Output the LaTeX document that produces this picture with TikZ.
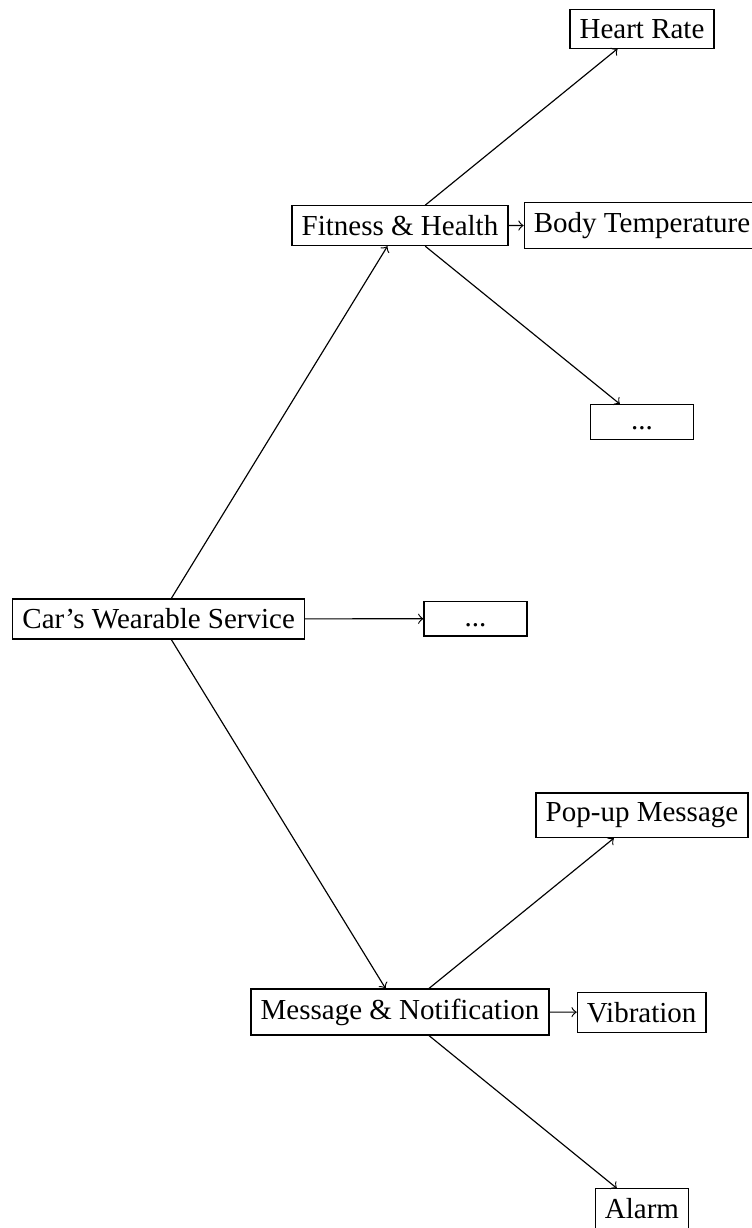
\documentclass[tikz,border=0pt]{standalone}
\usepackage{fontspec}
\setmainfont{Liberation Serif}
\begin{document}
\begin{tikzpicture}[x=0.3448pt,y=-0.3448pt,
  box/.style={draw, font=\fontsize{10}{12}\selectfont},
  dotbox/.style={box, minimum width=35.5pt, text height=5.3pt, text depth=0pt},
  conn/.style={->}]
\useasboundingbox (0,0) rectangle (752,1228);
\node[box] (root) at (158.7,619) {Car’s Wearable Service};
\node[box] (fit) at (400,225.7) {Fitness \& Health};
\node[box] (hr) at (642,28.8) {Heart Rate};
\node[box] (bt) at (642,225.3) {Body Temperature};
\node[dotbox] (d1) at (642,422) {...};
\node[dotbox] (d2) at (475.5,618.7) {...};
\node[box] (msg) at (400,1012) {Message \& Notification};
\node[box] (pop) at (642,815.3) {Pop-up Message};
\node[box] (vib) at (641.7,1012.2) {Vibration};
\node[box] (alarm) at (642,1208.7) {Alarm};
\draw[conn] (root) -- (fit);
\draw[conn] (root) -- (d2);
\draw[conn] (root) -- (msg);
\draw[conn] (fit) -- (hr);
\draw[conn] (fit) -- (bt);
\draw[conn] (fit) -- (d1);
\draw[conn] (msg) -- (pop);
\draw[conn] (msg) -- (vib);
\draw[conn] (msg) -- (alarm);
\end{tikzpicture}
\end{document}
